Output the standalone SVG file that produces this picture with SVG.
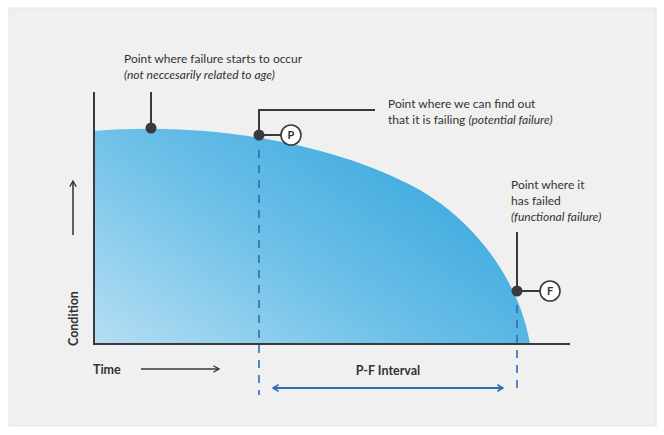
<svg xmlns="http://www.w3.org/2000/svg" width="664" height="435" viewBox="0 0 664 435">
<defs>
<linearGradient id="g" x1="0" y1="1" x2="1" y2="0.3">
<stop offset="0" stop-color="#b5def3"/>
<stop offset="0.5" stop-color="#6cc0e8"/>
<stop offset="1" stop-color="#35a5dd"/>
</linearGradient>
<marker id="ah" viewBox="0 0 10 10" refX="9" refY="5" markerWidth="8" markerHeight="8" orient="auto-start-reverse" markerUnits="userSpaceOnUse"><path d="M2,1 L9,5 L2,9" fill="none" stroke="#2f6cb5" stroke-width="2"/></marker>
<marker id="ak" viewBox="0 0 10 10" refX="9" refY="5" markerWidth="8" markerHeight="8" orient="auto" markerUnits="userSpaceOnUse"><path d="M2,1 L9,5 L2,9" fill="none" stroke="#333" stroke-width="1.6"/></marker>
<style>
text{font-family:"Lato","Liberation Sans",sans-serif;fill:#333;font-size:12px}
.i{font-style:italic}
.b{font-weight:bold;font-size:12.5px}
.ln{stroke:#3a3a3a;stroke-width:2;fill:none}
.d{stroke:#2f6cb5;stroke-width:1.6;stroke-dasharray:8,7;fill:none}
.dot{fill:#3a3a3a}
.c{fill:#fff;stroke:#3a3a3a;stroke-width:1.6}
.cl{font-weight:bold;font-size:11px;text-anchor:middle}
</style>
</defs>
<rect x="0" y="0" width="664" height="435" fill="#fff"/>
<rect x="9" y="8" width="647" height="418" fill="#f0f0f0" stroke="#e4e4e4"/>
<path d="M94,344 L94,131 C200,122 330,140 420,190 C480,225 520,285 530,344 Z" fill="url(#g)"/>
<g id="axes">
<path class="ln" d="M94,92 L94,344 L570,344"/>
<text class="b" transform="translate(78,346) rotate(-90)">Condition</text>
<line class="ln" x1="73" y1="235" x2="73" y2="181" marker-end="url(#ak)" style="stroke-width:1.6"/>
<text class="b" x="93" y="374">Time</text>
<line class="ln" x1="141" y1="369" x2="219" y2="369" marker-end="url(#ak)" style="stroke-width:1.6"/>
</g>
<g id="connectors">
<line class="d" x1="259" y1="150" x2="259" y2="395"/>
<line class="d" x1="517" y1="305" x2="517" y2="395"/>
<line x1="273" y1="388" x2="503" y2="388" stroke="#2f6cb5" stroke-width="2" marker-start="url(#ah)" marker-end="url(#ah)"/>
</g>
<g id="start">
<line class="ln" x1="151" y1="92" x2="151" y2="128"/>
<circle class="dot" cx="151" cy="128" r="5.5"/>
<text x="124" y="63">Point where failure starts to occur</text>
<text class="i" x="124" y="79">(not neccesarily related to age)</text>
</g>
<g id="potential">
<path class="ln" d="M259,135 L259,110 L375,110"/>
<line class="ln" x1="259" y1="135" x2="283" y2="135"/>
<circle class="dot" cx="259" cy="135" r="5.5"/>
<circle class="c" cx="291" cy="135" r="10"/>
<text class="cl" x="291" y="139">P</text>
<text x="388" y="108">Point where we can find out</text>
<text x="388" y="124">that it is failing <tspan class="i">(potential failure)</tspan></text>
</g>
<g id="functional">
<line class="ln" x1="517" y1="232" x2="517" y2="291"/>
<line class="ln" x1="517" y1="291" x2="540" y2="291"/>
<circle class="dot" cx="517" cy="291" r="5.5"/>
<circle class="c" cx="550" cy="291" r="10"/>
<text class="cl" x="550" y="295">F</text>
<text x="511" y="189">Point where it</text>
<text x="511" y="205">has failed</text>
<text class="i" x="511" y="221">(functional failure)</text>
</g>
<text class="b" x="388" y="375" text-anchor="middle">P-F Interval</text>
</svg>
